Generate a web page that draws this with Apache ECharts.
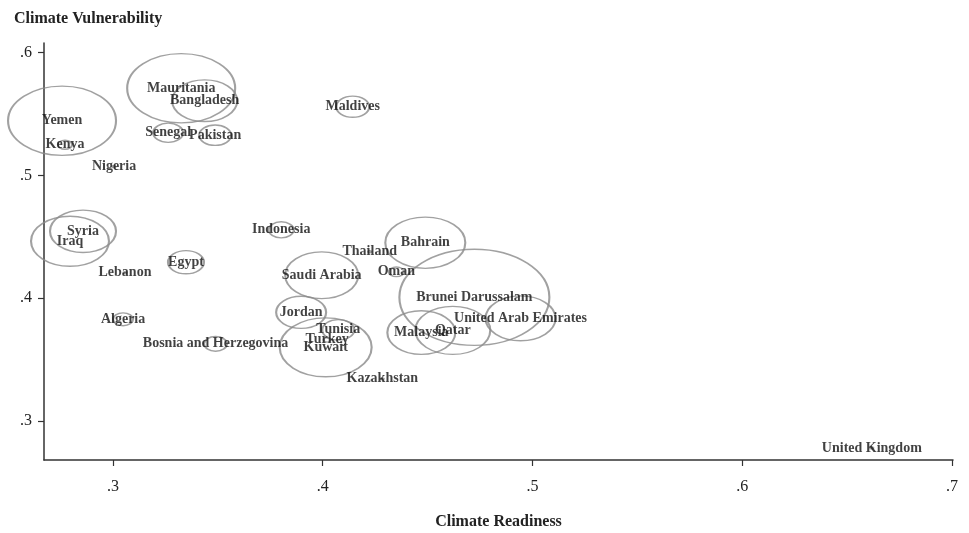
<!DOCTYPE html>
<html>
<head>
<meta charset="utf-8">
<script src="https://cdn.jsdelivr.net/npm/echarts@6/dist/echarts.min.js"></script>
<style>html,body{margin:0;padding:0;background:#fff;}#c{width:969px;height:533px;}</style>
</head>
<body>
<div id="c"></div>
<script>
var countries = ["Yemen","Kenya","Nigeria","Mauritania","Bangladesh","Senegal","Pakistan","Maldives","Syria","Iraq","Lebanon","Egypt","Indonesia","Algeria","Bosnia and Herzegovina","Saudi Arabia","Jordan","Tunisia","Turkey","Kuwait","Thailand","Oman","Bahrain","Brunei Darussalam","United Arab Emirates","Qatar","Malaysia","United Kingdom","Kazakhstan"];
var readiness = [0.2757,0.2771,0.3005,0.3325,0.3437,0.3263,0.3487,0.4143,0.2857,0.2795,0.3057,0.3348,0.3802,0.3048,0.3489,0.3995,0.3897,0.4074,0.4021,0.4014,0.4224,0.4351,0.4489,0.4723,0.4943,0.4620,0.4470,0.6618,0.4284];
var vulnerability = [0.5446,0.5250,0.5071,0.5710,0.5609,0.5348,0.5328,0.5560,0.4545,0.4464,0.4207,0.4293,0.4557,0.3828,0.3628,0.4187,0.3885,0.3742,0.3661,0.3600,0.4378,0.4215,0.4452,0.4007,0.3836,0.3738,0.3720,0.2780,0.3343];
var bubbleWeight = [116.6,2.0,0.1,116.6,42.3,9.0,10.2,10.9,43.6,60.8,0.1,13.0,6.3,4.0,5.3,53.3,25.0,10.2,0.5,84.6,0.1,2.3,64.0,225.0,49.0,56.3,46.2,0.1,0.1];
var xTicks = [0.3,0.4,0.5,0.6,0.7];
var yTicks = [0.3,0.4,0.5,0.6];

var labelOffsets = {"Malaysia":[-12,4]};

var data = countries.map(function(n,i){
  return {name:n, value:[readiness[i], vulnerability[i], bubbleWeight[i]],
    label:{offset: labelOffsets[n] || [0,0]}};
});

function fmt(v){ return v.toFixed(1).replace(/^0/, ''); }

var chart = echarts.init(document.getElementById('c'), null, {renderer:'canvas'});
var serif = 'Liberation Serif';
chart.setOption({
  animation:false,
  backgroundColor:'#fff',
  grid:{left:44,right:16,top:43,bottom:73,containLabel:false,outerBoundsMode:'none'},
  xAxis:{
    type:'value', min:0.2671, max:0.7005,
    name:'Climate Readiness', nameLocation:'middle', nameGap:54,
    nameTextStyle:{fontFamily:serif,fontWeight:'bold',fontSize:16,color:'#222'},
    axisLine:{show:true,lineStyle:{color:'#333',width:1.5}},
    axisTick:{show:true,length:6,lineStyle:{color:'#333',width:1.2},customValues:xTicks},
    axisLabel:{fontFamily:serif,fontSize:16,color:'#222',margin:19,customValues:xTicks,formatter:function(v){return fmt(v);}},
    splitLine:{show:false}
  },
  yAxis:{
    type:'value', min:0.2682, max:0.6079,
    name:'Climate Vulnerability', nameLocation:'end', nameGap:24,
    nameTextStyle:{fontFamily:serif,fontWeight:'bold',fontSize:16,color:'#222',align:'left',verticalAlign:'middle',padding:[0,0,0,-30]},
    axisLine:{show:true,lineStyle:{color:'#333',width:1.5}},
    axisTick:{show:true,length:6,lineStyle:{color:'#333',width:1.2},customValues:yTicks},
    axisLabel:{fontFamily:serif,fontSize:16,color:'#222',margin:12,customValues:yTicks,formatter:function(v){return fmt(v);}},
    splitLine:{show:false}
  },
  series:[{
    type:'scatter',
    data:data,
    symbol:'circle',
    symbolSize:function(val){
      var w = 10*Math.sqrt(val[2]);
      return [w, w/1.56];
    },
    itemStyle:{color:'rgba(0,0,0,0)',borderColor:'#8a8a8a',borderWidth:1.7},
    label:{show:true,position:'inside',formatter:'{b}',fontFamily:serif,fontWeight:'bold',fontSize:14,color:'#111'},
    labelLayout:{hideOverlap:false},
    emphasis:{disabled:true}
  }]
});
</script>
</body>
</html>
